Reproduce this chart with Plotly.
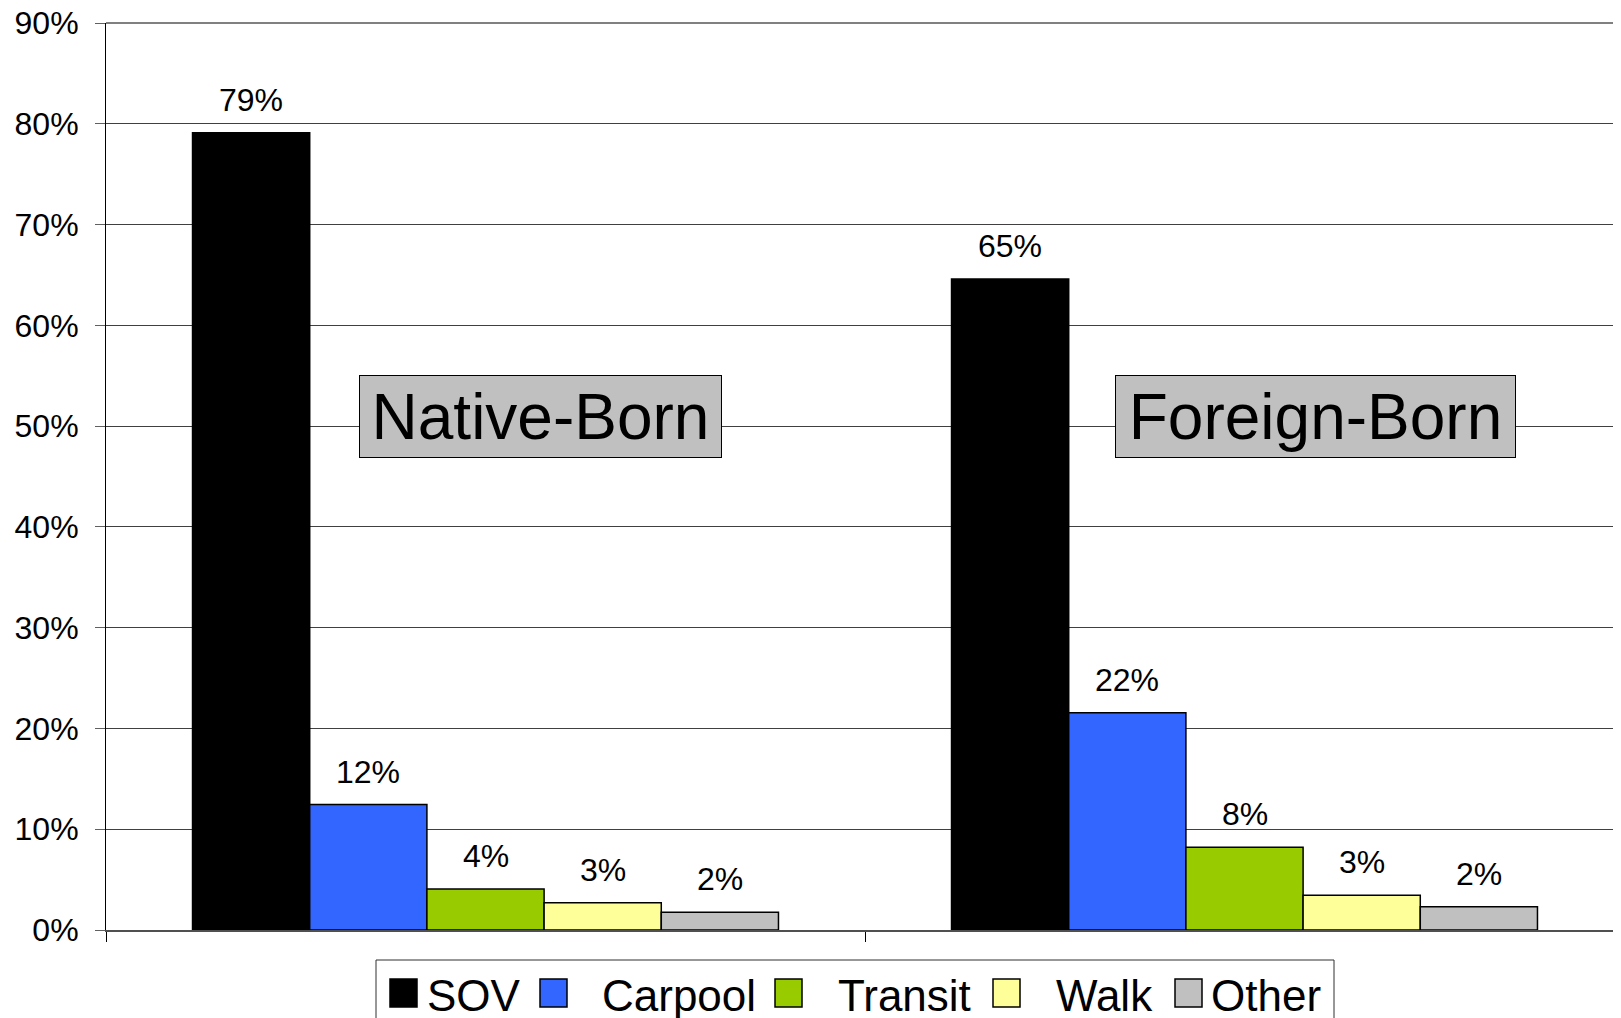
import plotly.graph_objects as go

# ---- data ----
groups = ["Native-Born", "Foreign-Born"]
modes = ["SOV", "Carpool", "Transit", "Walk", "Other"]
native_vals = [79.1, 12.45, 4.07, 2.7, 1.76]
foreign_vals = [64.6, 21.56, 8.2, 3.44, 2.31]
mode_colors = ["#000000", "#3366FF", "#99CC00", "#FFFF99", "#C0C0C0"]
y_ticks = [0, 10, 20, 30, 40, 50, 60, 70, 80, 90]
y_tick_labels = [f"{v}%" for v in y_ticks]

# ---- layout constants (page pixel coords; page body has 8px margin) ----
OFF = 8
W, H = 1621, 1018
PLOT_L, PLOT_T, PLOT_B, PLOT_R = 106, 23, 930, 1624
ML = PLOT_L - OFF
MT = PLOT_T - OFF
MB = H - (PLOT_B - OFF)
MR = W - (PLOT_R - OFF)
PW, PH = PLOT_R - PLOT_L, PLOT_B - PLOT_T
BARGAP = 0.228
FONT = "Liberation Sans, Arial, sans-serif"


def px_x(x):
    return (x - PLOT_L) / PW


def px_y(y):
    return (PLOT_B - y) / PH


fig = go.Figure()
series = list(zip(native_vals, foreign_vals))
for i, m in enumerate(modes):
    fig.add_trace(go.Bar(
        name=m,
        x=groups,
        y=list(series[i]),
        marker=dict(color=mode_colors[i], line=dict(color="#000000", width=1.5)),
        showlegend=False,
    ))

# data labels
bar_px = PW / len(groups) * (1 - BARGAP) / len(modes)
annotations = []
for i, m in enumerate(modes):
    for g, v in zip(groups, series[i]):
        annotations.append(dict(
            x=g, y=v, xref="x", yref="y", text=f"{v:.0f}%",
            showarrow=False, yanchor="bottom", xanchor="center",
            xshift=(i - (len(modes) - 1) / 2) * bar_px, yshift=13,
            font=dict(family=FONT, size=32, color="#000000"),
        ))

# group label boxes
box_specs = [(groups[0], 540), (groups[1], 1315)]
box_w = [363, 401]
for (txt, cx), bw in zip(box_specs, box_w):
    annotations.append(dict(
        x=px_x(cx), y=px_y(417), xref="paper", yref="paper", text=txt,
        showarrow=False, xanchor="center", yanchor="middle",
        font=dict(family=FONT, size=64, color="#000000"),
        bgcolor="#C0C0C0", bordercolor="#000000", borderwidth=1, borderpad=3,
        width=bw - 8, height=83 - 8,
    ))

# manual legend
shapes = []
legend_sq_x = [390, 540, 775, 993, 1175]
legend_txt_x = [425, 600, 836, 1054, 1209]
shapes.append(dict(type="rect", xref="paper", yref="paper",
                   x0=px_x(376), x1=px_x(1334), y0=px_y(960), y1=px_y(1040),
                   line=dict(color="#303030", width=1), fillcolor="#FFFFFF"))
for i, m in enumerate(modes):
    shapes.append(dict(type="rect", xref="paper", yref="paper",
                       x0=px_x(legend_sq_x[i]), x1=px_x(legend_sq_x[i] + 27),
                       y0=px_y(979), y1=px_y(1007),
                       line=dict(color="#000000", width=1.5),
                       fillcolor=mode_colors[i]))
    annotations.append(dict(
        x=px_x(legend_txt_x[i]), y=px_y(995), xref="paper", yref="paper",
        text=m, showarrow=False, xanchor="left", yanchor="middle",
        font=dict(family=FONT, size=44, color="#000000"),
    ))

# top border line
shapes.append(dict(type="line", xref="paper", yref="paper",
                   x0=0, x1=1, y0=1, y1=1, line=dict(color="#808080", width=2)))

fig.update_layout(
    width=W, height=H,
    margin=dict(l=ML, r=MR, t=MT, b=MB, pad=0, autoexpand=False),
    paper_bgcolor="#FFFFFF", plot_bgcolor="#FFFFFF",
    barmode="group", bargap=BARGAP, bargroupgap=0,
    showlegend=False,
    font=dict(family=FONT, size=32, color="#000000"),
    annotations=annotations, shapes=shapes,
    xaxis=dict(type="category", showticklabels=False, ticks="outside",
               tickson="boundaries", ticklen=10, tickcolor="#000000",
               showline=True, linecolor="#505050", linewidth=2,
               showgrid=False, zeroline=False, automargin=False),
    yaxis=dict(range=[0, 90], tickvals=y_ticks, ticktext=y_tick_labels,
               ticks="outside", ticklen=10, tickcolor="#606060",
               ticklabelstandoff=10, ticklabeloverflow="allow",
               showline=True, linecolor="#000000", linewidth=1,
               showgrid=True, gridcolor="#404040", gridwidth=1,
               zeroline=False, automargin=False,
               tickfont=dict(family=FONT, size=32, color="#000000")),
)

fig.write_html("out.html")
